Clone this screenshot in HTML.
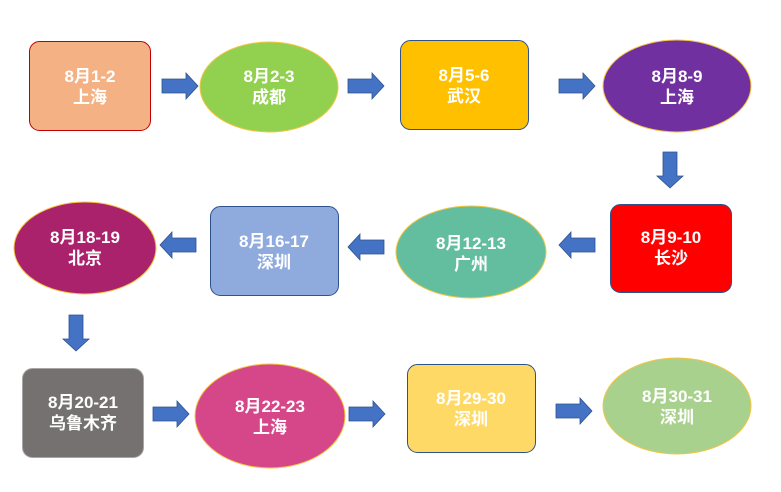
<!DOCTYPE html>
<html><head><meta charset="utf-8"><style>html,body{margin:0;padding:0;background:#fff}svg{display:block}text{font-family:"Liberation Sans","Noto Sans CJK SC",sans-serif;font-weight:bold;font-size:17px;fill:#fff;text-anchor:middle}</style></head>
<body>
<svg width="781" height="492" viewBox="0 0 781 492" xmlns="http://www.w3.org/2000/svg">
<defs>
<path id="ar" d="M0,-7 H24 V-13 L36,0 L24,13 V7 H0 Z" fill="#4472C4" stroke="#2F528F" stroke-width="0.8"/>
</defs>
<!-- row 1 -->
<rect x="29.5" y="41.5" width="121" height="89" rx="10" fill="#F4B183" stroke="#C00000"/>
<text x="90" y="82">8月1-2</text><text x="90" y="103">上海</text>
<use href="#ar" x="162" y="86"/>
<ellipse cx="269" cy="87" rx="69" ry="45" fill="#92D050" stroke="#F4C542"/>
<text x="269" y="82">8月2-3</text><text x="269" y="103">成都</text>
<use href="#ar" x="348" y="86"/>
<rect x="400.5" y="40.5" width="128" height="89" rx="10" fill="#FFC000" stroke="#2F528F"/>
<text x="464" y="81">8月5-6</text><text x="464" y="102">武汉</text>
<use href="#ar" x="559" y="86"/>
<ellipse cx="677" cy="86" rx="74" ry="46" fill="#7030A0" stroke="#F4C542"/>
<text x="677" y="82">8月8-9</text><text x="677" y="103">上海</text>
<use href="#ar" transform="translate(670,152) rotate(90)"/>
<!-- row 2 -->
<rect x="610.5" y="204.5" width="121" height="88" rx="10" fill="#FF0000" stroke="#2F528F"/>
<text x="671" y="243">8月9-10</text><text x="671" y="264">长沙</text>
<use href="#ar" transform="translate(595,245) rotate(180)"/>
<ellipse cx="471" cy="252" rx="75" ry="46" fill="#63BE9F" stroke="#F4C542"/>
<text x="471" y="249">8月12-13</text><text x="471" y="270">广州</text>
<use href="#ar" transform="translate(384,247) rotate(180)"/>
<rect x="210.5" y="206.5" width="128" height="89" rx="10" fill="#8FAADC" stroke="#2F528F"/>
<text x="274" y="247">8月16-17</text><text x="274" y="268">深圳</text>
<use href="#ar" transform="translate(196,245) rotate(180)"/>
<ellipse cx="85" cy="248" rx="71" ry="46" fill="#A9226B" stroke="#F4C542"/>
<text x="85" y="243">8月18-19</text><text x="85" y="264">北京</text>
<use href="#ar" transform="translate(76,315) rotate(90)"/>
<!-- row 3 -->
<rect x="22.5" y="368.5" width="121" height="89" rx="10" fill="#767171" stroke="#A6A6A6"/>
<text x="83" y="408">8月20-21</text><text x="83" y="429">乌鲁木齐</text>
<use href="#ar" x="153" y="414"/>
<ellipse cx="270" cy="416" rx="75" ry="52" fill="#D6478A" stroke="#F4C542"/>
<text x="270" y="412">8月22-23</text><text x="270" y="433">上海</text>
<use href="#ar" x="349" y="414"/>
<rect x="407.5" y="364.5" width="128" height="88" rx="10" fill="#FFD966" stroke="#2F528F"/>
<text x="471" y="404">8月29-30</text><text x="471" y="425">深圳</text>
<use href="#ar" x="556" y="411"/>
<ellipse cx="677" cy="406" rx="74" ry="48" fill="#A9D18E" stroke="#F4C542"/>
<text x="677" y="402">8月30-31</text><text x="677" y="423">深圳</text>
</svg>
</body></html>
